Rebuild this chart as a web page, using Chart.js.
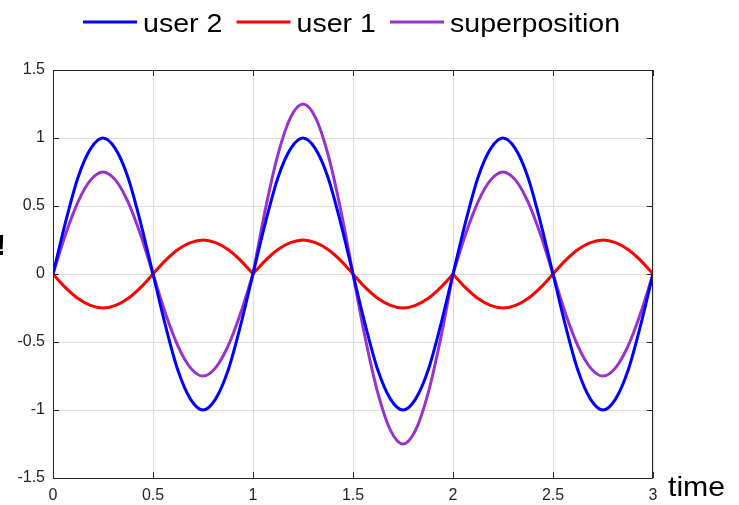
<!DOCTYPE html>
<html>
<head>
<meta charset="utf-8">
<script src="https://cdn.jsdelivr.net/npm/chart.js@4.4.1/dist/chart.umd.min.js"></script>
<style>
  html, body { margin: 0; padding: 0; background: #fff; }
  #wrap { width: 739px; height: 505px; position: relative; }
</style>
</head>
<body>
<div id="wrap"><canvas id="chart" width="739" height="505"></canvas></div>
<script>
// time samples (every 1/16)
const time = [0, 0.0625, 0.125, 0.1875, 0.25, 0.3125, 0.375, 0.4375, 0.5, 0.5625, 0.625, 0.6875, 0.75, 0.8125, 0.875, 0.9375,
  1, 1.0625, 1.125, 1.1875, 1.25, 1.3125, 1.375, 1.4375, 1.5, 1.5625, 1.625, 1.6875, 1.75, 1.8125, 1.875, 1.9375,
  2, 2.0625, 2.125, 2.1875, 2.25, 2.3125, 2.375, 2.4375, 2.5, 2.5625, 2.625, 2.6875, 2.75, 2.8125, 2.875, 2.9375, 3];

const user2 = [0, 0.38, 0.71, 0.92, 1, 0.92, 0.71, 0.38, 0, -0.38, -0.71, -0.92, -1, -0.92, -0.71, -0.38,
  0, 0.38, 0.71, 0.92, 1, 0.92, 0.71, 0.38, 0, -0.38, -0.71, -0.92, -1, -0.92, -0.71, -0.38,
  0, 0.38, 0.71, 0.92, 1, 0.92, 0.71, 0.38, 0, -0.38, -0.71, -0.92, -1, -0.92, -0.71, -0.38, 0];

const user1 = [0, -0.1, -0.18, -0.23, -0.25, -0.23, -0.18, -0.1, 0, 0.1, 0.18, 0.23, 0.25, 0.23, 0.18, 0.1,
  0, 0.1, 0.18, 0.23, 0.25, 0.23, 0.18, 0.1, 0, -0.1, -0.18, -0.23, -0.25, -0.23, -0.18, -0.1,
  0, -0.1, -0.18, -0.23, -0.25, -0.23, -0.18, -0.1, 0, 0.1, 0.18, 0.23, 0.25, 0.23, 0.18, 0.1, 0];

const superposition = [0, 0.29, 0.53, 0.69, 0.75, 0.69, 0.53, 0.29, 0, -0.29, -0.53, -0.69, -0.75, -0.69, -0.53, -0.29,
  0, 0.48, 0.88, 1.15, 1.25, 1.15, 0.88, 0.48, 0, -0.48, -0.88, -1.15, -1.25, -1.15, -0.88, -0.48,
  0, 0.29, 0.53, 0.69, 0.75, 0.69, 0.53, 0.29, 0, -0.29, -0.53, -0.69, -0.75, -0.69, -0.53, -0.29, 0];

const seriesNames = ['user 2', 'user 1', 'superposition'];
const seriesColors = ['#0000ff', '#ff0000', '#9933cc'];
const symbolEdges = [1, 2];   // bit boundaries: curves may have a corner here
const xTicks = [0, 0.5, 1, 1.5, 2, 2.5, 3];
const yTicks = [-1.5, -1, -0.5, 0, 0.5, 1, 1.5];

// break the smoothing at the symbol edges so corners stay sharp
const toPoints = ys => {
  const pts = [];
  ys.forEach((y, i) => {
    pts.push({ x: time[i], y: y });
    if (symbolEdges.includes(time[i])) {
      pts.push({ x: time[i], y: null });
      pts.push({ x: time[i], y: y });
    }
  });
  return pts;
};
const FONT = '"Liberation Sans", Arial, sans-serif';

// box + inward ticks, legend, extra labels (matlab-ish look)
const decorations = {
  id: 'decorations',
  afterDatasetsDraw(chart) {
    const { ctx, chartArea: a, scales } = chart;
    ctx.save();
    ctx.strokeStyle = '#262626';
    ctx.lineWidth = 1;
    ctx.beginPath();
    ctx.rect(a.left + 0.5, a.top + 0.5, a.right - a.left - 1, a.bottom - a.top);
    ctx.stroke();
    ctx.beginPath();
    xTicks.forEach(v => {
      const x = Math.round(scales.x.getPixelForValue(v)) + 0.5;
      ctx.moveTo(x, a.bottom); ctx.lineTo(x, a.bottom - 6);
      ctx.moveTo(x, a.top); ctx.lineTo(x, a.top + 6);
    });
    yTicks.forEach(v => {
      const y = Math.round(scales.y.getPixelForValue(v)) + 0.5;
      ctx.moveTo(a.left, y); ctx.lineTo(a.left + 6, y);
      ctx.moveTo(a.right, y); ctx.lineTo(a.right - 6, y);
    });
    ctx.stroke();
    ctx.restore();
  },
  afterDraw(chart) {
    const { ctx } = chart;
    ctx.save();
    // legend
    ctx.font = '26px ' + FONT;
    ctx.textBaseline = 'alphabetic';
    ctx.fillStyle = '#000';
    const lineLen = 54, gapText = 6, gapItem = 14, sx = 1.1;
    let x = 83;
    chart.data.datasets.forEach(ds => {
      ctx.strokeStyle = ds.borderColor;
      ctx.lineWidth = 3;
      ctx.beginPath();
      ctx.moveTo(x, 22); ctx.lineTo(x + lineLen, 22);
      ctx.stroke();
      x += lineLen + gapText;
      const w = ctx.measureText(ds.label).width * sx;
      ctx.save();
      ctx.translate(x, 32);
      ctx.scale(sx, 1);
      ctx.fillText(ds.label, 0, 0);
      ctx.restore();
      x += w + gapItem;
    });
    // axis label at right
    ctx.font = '28px ' + FONT;
    ctx.save();
    ctx.translate(668, 496);
    ctx.scale(1.08, 1);
    ctx.fillText('time', 0, 0);
    ctx.restore();
    // clipped y label fragment
    ctx.font = 'bold 30px ' + FONT;
    ctx.fillText('!', -4, 255);
    ctx.restore();
  }
};

new Chart(document.getElementById('chart'), {
  type: 'line',
  data: {
    datasets: [
      { label: seriesNames[0], data: toPoints(user2), borderColor: seriesColors[0] },
      { label: seriesNames[1], data: toPoints(user1), borderColor: seriesColors[1] },
      { label: seriesNames[2], data: toPoints(superposition), borderColor: seriesColors[2] }
    ].map(ds => Object.assign(ds, {
      borderWidth: 3,
      pointRadius: 0,
      fill: false,
      spanGaps: false,
      borderCapStyle: 'round',
      cubicInterpolationMode: 'monotone'
    }))
  },
  options: {
    responsive: false,
    animation: false,
    layout: { padding: { top: 70, right: 86, left: 0, bottom: 0 } },
    plugins: { legend: { display: false }, tooltip: { enabled: false } },
    scales: {
      x: {
        type: 'linear', min: 0, max: 3,
        afterFit: s => { s.height = 27; },
        afterBuildTicks: s => { s.ticks = xTicks.map(v => ({ value: v })); },
        grid: { color: '#dcdcdc', lineWidth: 1, drawTicks: false },
        border: { display: false },
        ticks: { padding: 8, color: '#262626', font: { family: FONT, size: 16 }, maxRotation: 0, callback: v => String(v) }
      },
      y: {
        min: -1.5, max: 1.5,
        afterFit: s => { s.width = 53; },
        afterBuildTicks: s => { s.ticks = yTicks.map(v => ({ value: v })); },
        grid: { color: '#dcdcdc', lineWidth: 1, drawTicks: false },
        border: { display: false },
        ticks: { padding: 8, color: '#262626', font: { family: FONT, size: 16 }, callback: v => String(v) }
      }
    }
  },
  plugins: [decorations]
});
</script>
</body>
</html>
